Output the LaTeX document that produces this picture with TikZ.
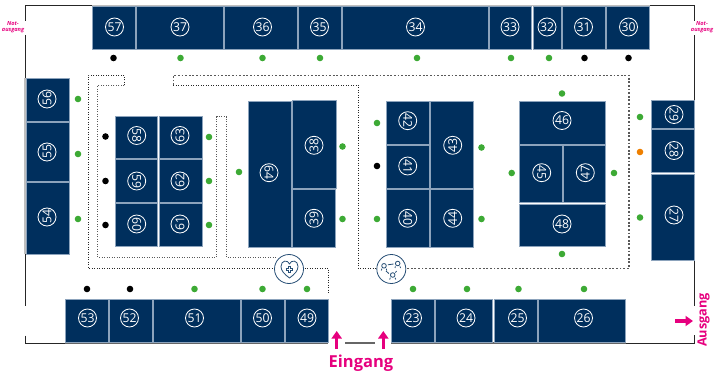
\documentclass[tikz,border=0pt]{standalone}
\usepackage{fontspec}
\setmainfont{Open Sans}
\usetikzlibrary{arrows.meta}
\definecolor{navy}{HTML}{002F5D}
\definecolor{edgeb}{HTML}{8CA3BC}
\definecolor{grn}{HTML}{3DAA35}
\definecolor{org}{HTML}{EE7F00}
\definecolor{pnk}{HTML}{E6007E}
\tikzset{
  boothbox/.style={fill=navy,draw=edgeb,line width=.6pt},
  boothnum/.style={circle,draw=white,line width=.8pt,text=white,minimum size=18pt,inner sep=0pt,font=\fontsize{12.2}{12}\selectfont},
  gdot/.style={circle,fill=grn,minimum size=6.6pt,inner sep=0pt},
  kdot/.style={circle,fill=black,minimum size=6.6pt,inner sep=0pt},
  odot/.style={circle,fill=org,minimum size=6.6pt,inner sep=0pt},
  wall/.style={line width=1pt,draw=black!85},
  wallg/.style={line width=1.3pt,draw=black!60},
  wallt/.style={line width=1.5pt,draw=black!25},
  fine/.style={line width=.8pt,draw=black!85,dash pattern=on 1pt off 1.5pt},
  coarse/.style={line width=1.2pt,draw=black!65,dash pattern=on 1.8pt off 1.8pt},
  icon/.style={circle,draw=navy!85!white,fill=white,line width=.8pt,minimum size=29pt,inner sep=0pt},
  ic/.style={draw=navy!85!white,line width=.8pt},
  exitlbl/.style={text=pnk,font=\bfseries\itshape\fontsize{5.6}{6.2}\selectfont,align=center,inner sep=0pt},
  arr/.style={draw=pnk,line width=3.2pt,-{Triangle[width=10pt,length=7.5pt]}},
}
\newcommand{\booth}[8]{%
  \path[boothbox] (#2,#3) rectangle (#4,#5);
  \node[boothnum,rotate=#8] (n#1) at (#6,#7) {#1};
}
\begin{document}
\begin{tikzpicture}[x=1pt,y=-1pt]
\useasboundingbox (0,0) rectangle (714,374);
% walls
\draw[wallt] (92,5.3) -- (650,5.3);
\draw[wall] (92,5.3) -- (25,5.3) -- (25,21);
\draw[wall] (25,35) -- (25,78);
\draw[wallt] (25,78) -- (25,254);
\draw[wall] (25,254) -- (25,306);
\draw[wall] (25,335.5) -- (25,343) -- (65,343);
\draw[wallg] (65,343) -- (328,343);
\draw[wallg] (345,343) -- (375,343);
\draw[wallg] (391,343) -- (626,343);
\draw[wall] (626,343) -- (694.3,343) -- (694.3,335);
\draw[wall] (694.3,305.5) -- (694.3,261);
\draw[wall] (694.3,100) -- (694.3,35);
\draw[wall] (694.3,21) -- (694.3,5.3) -- (650,5.3);
% dotted routes
\draw[fine] (124.3,85.3) -- (124.3,75.3) -- (88.3,75.3) -- (88.3,268.3) -- (276,268.3);
\draw[fine,draw=black!65,line width=.9pt] (124.3,85.3) -- (97.7,85.3) -- (97.7,257.3) -- (216.5,257.3) -- (216.5,116.7) -- (226.7,116.7) -- (226.7,257.3) -- (276,257.3);
\draw[fine] (302,268.3) -- (328.3,268.3) -- (328.3,294);
\draw[coarse] (173.3,85) -- (173.3,75.3) -- (629,75.3) -- (629,268.3) -- (405,268.3);
\draw[fine] (173.3,85) -- (358.3,85) -- (358.3,268.3) -- (378,268.3);
% booths
\booth{57}{92.5}{6.5}{135.5}{49.5}{114.5}{27}{0}
\booth{37}{136.5}{6.5}{223.5}{49.5}{180}{27}{0}
\booth{36}{224.5}{6.5}{297}{49.5}{262.5}{27}{0}
\booth{35}{298}{6.5}{341}{49.5}{319.5}{27}{0}
\booth{34}{342}{6.5}{488}{49.5}{415.5}{27}{0}
\booth{33}{489}{6.5}{531.5}{49.5}{510}{27}{0}
\booth{32}{533}{6.5}{561}{49.5}{547}{27}{0}
\booth{31}{562}{6.5}{605}{49.5}{583.5}{27}{0}
\booth{30}{606.5}{6.5}{649.5}{49.5}{628.5}{27}{0}
\booth{56}{26}{78.5}{69}{121}{47}{99}{90}
\booth{55}{26}{122.5}{69}{181}{47}{152}{90}
\booth{54}{26}{182}{69}{254}{47}{217}{90}
\booth{58}{115}{116}{157.5}{158}{136.7}{135.5}{-90}
\booth{63}{159}{116}{202}{158}{180}{135.5}{90}
\booth{59}{115}{159.5}{157.5}{202.3}{136.7}{181}{-90}
\booth{62}{159}{159.5}{202}{202.3}{180}{181}{90}
\booth{60}{115}{203.7}{157.5}{246.7}{136.7}{224}{-90}
\booth{61}{159}{203.7}{202}{246.7}{180}{224}{90}
\booth{64}{248.3}{101.3}{291}{247}{269}{172.7}{-90}
\booth{38}{292}{100.5}{336.5}{188}{314}{145.3}{90}
\booth{39}{292.5}{189}{335.5}{247}{314}{218.3}{90}
\booth{42}{386.5}{101.3}{429}{144}{407.7}{120.7}{-90}
\booth{41}{386.5}{145.5}{429}{188}{407.7}{166}{-90}
\booth{40}{386.5}{189}{429}{247}{407.7}{218.3}{-90}
\booth{43}{430.5}{101.3}{473.5}{188}{452.7}{145.3}{90}
\booth{44}{430.5}{189}{473.5}{247}{452.7}{218.3}{90}
\booth{46}{519}{101.3}{605.5}{144}{562}{120.5}{0}
\booth{45}{519}{145.5}{562}{202.5}{541.7}{172.7}{-90}
\booth{47}{563}{145.5}{605.5}{202.5}{585.3}{172.7}{90}
\booth{48}{519}{204}{605.5}{246.5}{562}{224}{0}
\booth{29}{651}{100.5}{694}{128}{674}{114.5}{-90}
\booth{28}{651}{129.5}{694}{172.5}{674}{150.5}{-90}
\booth{27}{651}{174}{694}{260.5}{674}{215}{-90}
\booth{53}{65}{299}{108}{342}{87.5}{318}{0}
\booth{52}{109}{299}{152}{342}{129.5}{318}{0}
\booth{51}{153}{299}{240}{342}{194.5}{318}{0}
\booth{50}{241}{299}{284}{342}{262.5}{318}{0}
\booth{49}{285}{299}{328}{342}{307}{318}{0}
\booth{23}{391}{299}{434}{342}{412.5}{318}{0}
\booth{24}{435}{299}{492.7}{342}{466}{318}{0}
\booth{25}{494.5}{299}{537}{342}{517.5}{318}{0}
\booth{26}{538.5}{299}{625.5}{342}{583.5}{318}{0}
% dots
\foreach \n/\x/\y in {a/180.5/58,b/262.5/58,c/320/58,d/417/58,e/511/58,f/549/58,g/78/99,h/78/154,i/78/219,j/209/137,k/209/181,l/209/225,m/239/172,o/342.5/146.5,p/342.5/219,q/377/123,r/377/219,s/481.5/147.5,t/481.5/219,u/562/93.5,v/562/254,w/511.7/173,x/614/173,y/640/117,z/640/217.5,aa/194.5/289,ab/262.5/289,ac/307/289,ad/413/289,ae/467/289,af/518.5/289,ag/584/289}
  \node[gdot] (g\n) at (\x,\y) {};
\foreach \n/\x/\y in {a/113.5/58,b/584.5/58,c/628.5/58,d/105.5/136.5,e/105.5/181,f/105.5/225,g/377/166,h/87/289,i/130/289}
  \node[kdot] (k\n) at (\x,\y) {};
\node[odot] (o1) at (640,152) {};
% icons
\node[icon] (heart) at (289,269) {};
\node[icon] (net) at (391.3,269) {};
\draw[ic,line join=round] (289.5,278) .. controls (284,274) and (281,270.5) .. (281,266.5) .. controls (281,260) and (288,259.5) .. (289.5,264) .. controls (291,259.5) and (298,260) .. (298,266.5) .. controls (298,270.5) and (295,274) .. (289.5,278) -- cycle;
\draw[navy!85!white,line width=2.6pt] (285.8,269.5) -- (293.2,269.5) (289.5,265.8) -- (289.5,273.2);
\draw[white,line width=1pt] (286.6,269.5) -- (292.4,269.5) (289.5,266.6) -- (289.5,272.4);
\draw[ic] (384,265.8) circle (2.3pt) (397.7,263.5) circle (2.3pt) (392.7,275) circle (2.3pt);
\draw[ic] (381.3,270.5) -- (381.9,268.6) (386.2,268.6) -- (386.7,270.5);
\draw[ic] (395,268) -- (395.4,266.4) (400,266.4) -- (400.5,268);
\draw[ic] (389.6,279.5) -- (390.4,277.7) (395,277.7) -- (395.8,279.5);
\draw[ic] (387.8,264.8) -- (393.5,264);
\draw[ic] (386,271) -- (388.8,273.5);
\draw[ic] (396.6,271) -- (395.4,272.6);
% entrances
\coordinate (e1a) at (336.7,349);
\coordinate (e1b) at (336.7,331);
\coordinate (e2a) at (383.3,349);
\coordinate (e2b) at (383.3,331);
\coordinate (e3a) at (675,321);
\coordinate (e3b) at (693,321);
\draw[arr] (e1a) -- (e1b);
\draw[arr] (e2a) -- (e2b);
\draw[arr] (e3a) -- (e3b);
\node[text=pnk,font=\bfseries\fontsize{16.5}{17}\selectfont,inner sep=0pt] (eingang) at (361,363.5) {Eingang};
\node[text=pnk,font=\bfseries\fontsize{12.7}{13}\selectfont,inner sep=0pt,rotate=90] (ausgang) at (703.5,320) {Ausgang};
\node[exitlbl] (nl) at (13,27) {Not-\\[-.5pt]ausgang};
\node[exitlbl] (nr) at (702,27) {Not-\\[-.5pt]ausgang};
\end{tikzpicture}
\end{document}
